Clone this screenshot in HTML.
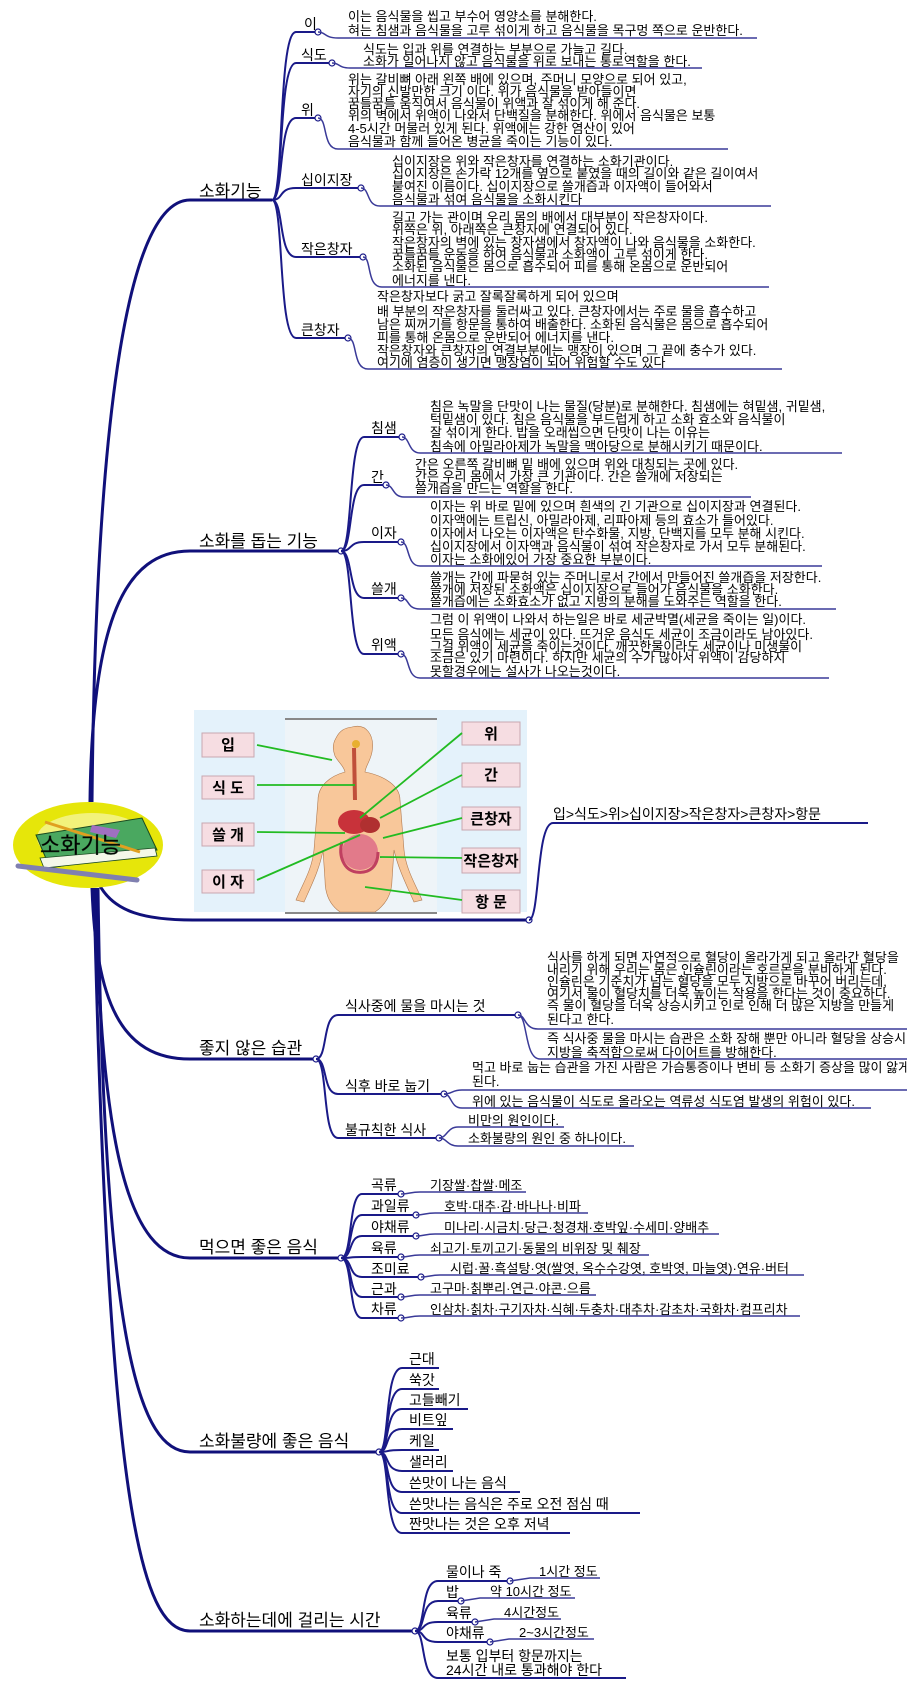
<!DOCTYPE html>
<html><head><meta charset="utf-8"><style>
html,body{margin:0;padding:0;background:#fff;}
svg{display:block;}
text{font-family:"Liberation Sans","Noto Sans CJK KR",sans-serif;fill:#000;}
.d{font-size:13px;}
.l{font-size:14px;}
.m{font-size:17px;}
.t{fill:none;stroke:#10107a;stroke-width:3;}
.b{fill:none;stroke:#1a1a88;stroke-width:2;}
.u{fill:none;stroke:#3a3a98;stroke-width:1.5;}
.c{fill:#fff;stroke:#1a1a88;stroke-width:1.2;}
</style></head><body>
<svg width="907" height="1681" viewBox="0 0 907 1681" xmlns="http://www.w3.org/2000/svg">
<!-- trunks -->
<path class="t" d="M92,802 C96,400 130,200 190,200 L272,200"/>
<path class="t" d="M90,802 C92,620 125,551 190,551 L341,551"/>
<path class="t" d="M100,886 C115,912 145,920 193,920 L529,920"/>
<path class="t" d="M92,888 C96,1000 120,1059 190,1059 L316,1059"/>
<path class="t" d="M96,888 C100,1150 130,1258 190,1258 L341,1258"/>
<path class="t" d="M98,888 C104,1350 140,1452 190,1452 L379,1452"/>
<path class="t" d="M94,888 C108,1500 140,1631 190,1631 L415,1631"/>

<!-- Section 1 -->
<text class="m" x="199" y="197">소화기능</text>
<g>
<path class="b" d="M272,200 C284,200 278,32 296,32 L318,32"/><circle class="c" cx="318" cy="32" r="3"/>
<text class="l" x="304" y="29">이</text>
<path class="u" d="M318,32 C326,32 324,38 338,38 L757,38"/>
<text class="d" x="348" y="21">이는 음식물을 씹고 부수어 영양소를 분해한다.</text>
<text class="d" x="348" y="35">혀는 침샘과 음식물을 고루 섞이게 하고 음식물을 목구멍 쪽으로 운반한다.</text>

<path class="b" d="M272,200 C284,200 278,63 296,63 L332,63"/><circle class="c" cx="332" cy="63" r="3"/>
<text class="l" x="301" y="60">식도</text>
<path class="u" d="M332,63 C340,63 338,68 350,68 L702,68"/>
<text class="d" x="363" y="54">식도는 입과 위를 연결하는 부분으로 가늘고 길다.</text>
<text class="d" x="363" y="66">소화가 일어나지 않고 음식물을 위로 보내는 통로역할을 한다.</text>

<path class="b" d="M272,200 C284,200 278,118 296,118 L318,118"/><circle class="c" cx="318" cy="118" r="3"/>
<text class="l" x="301" y="115">위</text>
<path class="u" d="M318,118 C328,118 322,149 338,149 L728,149"/>
<text class="d" x="348" y="84">위는 갈비뼈 아래 왼쪽 배에 있으며, 주머니 모양으로 되어 있고,</text>
<text class="d" x="348" y="96">자기의 신발만한 크기 이다. 위가 음식물을 받아들이면</text>
<text class="d" x="348" y="108">꿈틀꿈틀 움직여서 음식물이 위액과 잘 섞이게 해 준다.</text>
<text class="d" x="348" y="120">위의 벽에서 위액이 나와서 단백질을 분해한다. 위에서 음식물은 보통</text>
<text class="d" x="348" y="133">4-5시간 머물러 있게 된다. 위액에는 강한 염산이 있어</text>
<text class="d" x="348" y="146">음식물과 함께 들어온 병균을 죽이는 기능이 있다.</text>

<path class="b" d="M272,200 C284,200 278,188 296,188 L361,188"/><circle class="c" cx="361" cy="188" r="3"/>
<text class="l" x="301" y="185">십이지장</text>
<path class="u" d="M361,188 C370,188 366,206 380,206 L771,206"/>
<text class="d" x="392" y="166">십이지장은 위와 작은창자를 연결하는 소화기관이다.</text>
<text class="d" x="392" y="178">십이지장은 손가락 12개를 옆으로 붙였을 때의 길이와 같은 길이여서</text>
<text class="d" x="392" y="191">붙여진 이름이다. 십이지장으로 쓸개즙과 이자액이 들어와서</text>
<text class="d" x="392" y="204">음식물과 섞여 음식물을 소화시킨다</text>

<path class="b" d="M272,200 C284,200 278,257 296,257 L363,257"/><circle class="c" cx="363" cy="257" r="3"/>
<text class="l" x="301" y="254">작은창자</text>
<path class="u" d="M363,257 C372,257 366,287 382,287 L769,287"/>
<text class="d" x="392" y="222">길고 가는 관이며 우리 몸의 배에서 대부분이 작은창자이다.</text>
<text class="d" x="392" y="234">위쪽은 위, 아래쪽은 큰창자에 연결되어 있다.</text>
<text class="d" x="392" y="247">작은창자의 벽에 있는 창자샘에서 창자액이 나와 음식물을 소화한다.</text>
<text class="d" x="392" y="259">꿈틀꿈틀 운동을 하여 음식물과 소화액이 고루 섞이게 한다.</text>
<text class="d" x="392" y="271">소화된 음식물은 몸으로 흡수되어 피를 통해 온몸으로 운반되어</text>
<text class="d" x="392" y="285">에너지를 낸다.</text>

<path class="b" d="M272,200 C284,200 278,338 296,338 L348,338"/><circle class="c" cx="348" cy="338" r="3"/>
<text class="l" x="301" y="335">큰창자</text>
<path class="u" d="M348,338 C358,338 352,369 368,369 L782,369"/>
<text class="d" x="377" y="301">작은창자보다 굵고 잘록잘록하게 되어 있으며</text>
<text class="d" x="377" y="316">배 부분의 작은창자를 둘러싸고 있다. 큰창자에서는 주로 물을 흡수하고</text>
<text class="d" x="377" y="329">남은 찌꺼기를 항문을 통하여 배출한다. 소화된 음식물은 몸으로 흡수되어</text>
<text class="d" x="377" y="342">피를 통해 온몸으로 운반되어 에너지를 낸다.</text>
<text class="d" x="377" y="355">작은창자와 큰창자의 연결부분에는 맹장이 있으며 그 끝에 충수가 있다.</text>
<text class="d" x="377" y="367">여기에 염증이 생기면 맹장염이 되어 위험할 수도 있다</text>
</g>

<!-- Section 2 -->
<text class="m" x="199" y="547">소화를 돕는 기능</text>
<circle class="c" cx="341" cy="551" r="3"/>
<path class="b" d="M341,551 C353,551 348,437 364,437 L402,437"/><circle class="c" cx="402" cy="437" r="3"/>
<text class="l" x="371" y="433">침샘</text>
<path class="u" d="M402,437 C410,437 408,453 420,453 L842,453"/>
<text class="d" x="430" y="411">침은 녹말을 단맛이 나는 물질(당분)로 분해한다. 침샘에는 혀밑샘, 귀밑샘,</text>
<text class="d" x="430" y="424">턱밑샘이 있다. 침은 음식물을 부드럽게 하고 소화 효소와 음식물이</text>
<text class="d" x="430" y="437">잘 섞이게 한다. 밥을 오래씹으면 단맛이 나는 이유는</text>
<text class="d" x="430" y="451">침속에 아밀라아제가 녹말을 맥아당으로 분해시키기 때문이다.</text>

<path class="b" d="M341,551 C353,551 348,485 364,485 L386,485"/><circle class="c" cx="386" cy="485" r="3"/>
<text class="l" x="371" y="482">간</text>
<path class="u" d="M386,485 C394,485 392,497 404,497 L751,497"/>
<text class="d" x="415" y="469">간은 오른쪽 갈비뼈 밑 배에 있으며 위와 대칭되는 곳에 있다.</text>
<text class="d" x="415" y="481">간은 우리 몸에서 가장 큰 기관이다. 간은 쓸개에 저장되는</text>
<text class="d" x="415" y="493">쓸개즙을 만드는 역할을 한다.</text>

<path class="b" d="M341,551 C353,551 348,542 364,542 L401,542"/><circle class="c" cx="401" cy="542" r="3"/>
<text class="l" x="371" y="538">이자</text>
<path class="u" d="M401,542 C410,542 406,566 420,566 L822,566"/>
<text class="d" x="430" y="511">이자는 위 바로 밑에 있으며 흰색의 긴 기관으로 십이지장과 연결된다.</text>
<text class="d" x="430" y="525">이자액에는 트립신, 아밀라아제, 리파아제 등의 효소가 들어있다.</text>
<text class="d" x="430" y="538">이자에서 나오는 이자액은 탄수화물, 지방, 단백지를 모두 분해 시킨다.</text>
<text class="d" x="430" y="551">십이지장에서 이자액과 음식물이 섞여 작은창자로 가서 모두 분해된다.</text>
<text class="d" x="430" y="564">이자는 소화에있어 가장 중요한 부분이다.</text>

<path class="b" d="M341,551 C353,551 348,598 364,598 L401,598"/><circle class="c" cx="401" cy="598" r="3"/>
<text class="l" x="371" y="594">쓸개</text>
<path class="u" d="M401,598 C410,598 406,609 420,609 L836,609"/>
<text class="d" x="430" y="582">쓸개는 간에 파묻혀 있는 주머니로서 간에서 만들어진 쓸개즙을 저장한다.</text>
<text class="d" x="430" y="594">쓸개에 저장된 소화액은 십이지장으로 들어가 음식물을 소화한다.</text>
<text class="d" x="430" y="606">쓸개즙에는 소화효소가 없고 지방의 분해를 도와주는 역할을 한다.</text>

<path class="b" d="M341,551 C353,551 348,654 364,654 L401,654"/><circle class="c" cx="401" cy="654" r="3"/>
<text class="l" x="371" y="650">위액</text>
<path class="u" d="M401,654 C410,654 406,678 420,678 L829,678"/>
<text class="d" x="430" y="624">그럼 이 위액이 나와서 하는일은 바로 세균박멸(세균을 죽이는 일)이다.</text>
<text class="d" x="430" y="639">모든 음식에는 세균이 있다. 뜨거운 음식도 세균이 조금이라도 남아있다.</text>
<text class="d" x="430" y="651">그걸 위액이 세균을 죽이는것이다. 깨끗한물이라도 세균이나 미생물이</text>
<text class="d" x="430" y="662">조금은 있기 마련이다. 하지만 세균의 수가 많아서 위액이 감당하지</text>
<text class="d" x="430" y="676">못할경우에는 설사가 나오는것이다.</text>

<!-- Section 3 image -->
<rect x="194" y="710" width="333" height="202" fill="#e4f2fb"/>
<rect x="285" y="718" width="152" height="194" fill="#eef4f8"/>
<line x1="285" y1="719" x2="437" y2="719" stroke="#888" stroke-width="2"/>
<line x1="285" y1="913" x2="437" y2="913" stroke="#888" stroke-width="2"/>
<path d="M352,727 C366,723 375,735 372,752 C370,762 366,765 365,772 C385,776 400,786 400,800 L404,850 C406,870 416,885 422,900 L414,902 C406,884 398,868 394,850 L392,880 C392,895 385,905 375,912 L340,912 C330,905 325,895 325,880 L323,850 C320,868 312,884 304,902 L296,900 C302,885 312,870 314,850 L318,800 C318,786 330,776 345,772 C344,766 338,762 335,756 C333,750 332,745 336,738 C340,730 345,728 352,727 Z" fill="#f8c79a" stroke="#b07a50" stroke-width="0.6"/>
<path d="M352,748 L356,748 L357,800 L353,800 Z" fill="#c0503a"/>
<circle cx="356" cy="744" r="4" fill="#e8b030"/>
<ellipse cx="354" cy="822" rx="16" ry="12" fill="#c8323a"/>
<ellipse cx="370" cy="825" rx="10" ry="8" fill="#b03030"/>
<ellipse cx="360" cy="852" rx="18" ry="18" fill="#e27a8a"/>
<path d="M342,842 C338,856 344,870 356,872 C370,874 378,866 378,852" fill="none" stroke="#c04060" stroke-width="3"/>
<g font-weight="bold" font-size="15">
<rect x="202" y="733" width="52" height="24" fill="#f6dde2" stroke="#c8a8b0"/><text x="228" y="750" text-anchor="middle">입</text>
<rect x="202" y="776" width="52" height="23" fill="#f6dde2" stroke="#c8a8b0"/><text x="228" y="793" text-anchor="middle">식 도</text>
<rect x="202" y="823" width="52" height="23" fill="#f6dde2" stroke="#c8a8b0"/><text x="228" y="840" text-anchor="middle">쓸 개</text>
<rect x="202" y="870" width="52" height="23" fill="#f6dde2" stroke="#c8a8b0"/><text x="228" y="887" text-anchor="middle">이 자</text>
<rect x="462" y="722" width="58" height="23" fill="#f6dde2" stroke="#c8a8b0"/><text x="491" y="739" text-anchor="middle">위</text>
<rect x="462" y="763" width="58" height="24" fill="#f6dde2" stroke="#c8a8b0"/><text x="491" y="780" text-anchor="middle">간</text>
<rect x="462" y="807" width="58" height="23" fill="#f6dde2" stroke="#c8a8b0"/><text x="491" y="824" text-anchor="middle">큰창자</text>
<rect x="462" y="848" width="58" height="25" fill="#f6dde2" stroke="#c8a8b0"/><text x="491" y="866" text-anchor="middle">작은창자</text>
<rect x="462" y="890" width="58" height="23" fill="#f6dde2" stroke="#c8a8b0"/><text x="491" y="907" text-anchor="middle">항 문</text>
</g>
<g stroke="#22bb22" stroke-width="1.8" fill="none">
<line x1="257" y1="745" x2="332" y2="760"/>
<line x1="257" y1="785" x2="355" y2="785"/>
<line x1="257" y1="832" x2="345" y2="833"/>
<line x1="257" y1="880" x2="360" y2="835"/>
<line x1="462" y1="733" x2="360" y2="818"/>
<line x1="462" y1="775" x2="380" y2="818"/>
<line x1="462" y1="818" x2="383" y2="838"/>
<line x1="462" y1="858" x2="380" y2="857"/>
<line x1="462" y1="900" x2="365" y2="887"/>
</g>
<circle class="c" cx="529" cy="920" r="3"/>
<path class="b" d="M529,920 C540,920 536,823 553,823 L868,823"/>
<text class="l" x="553" y="819">입&gt;식도&gt;위&gt;십이지장&gt;작은창자&gt;큰창자&gt;항문</text>

<!-- root image -->
<ellipse cx="88" cy="845" rx="75" ry="43" fill="#e6e60a"/>
<ellipse cx="92" cy="838" rx="55" ry="25" fill="#f2f27a"/>
<path d="M36,835 L142,818 L157,850 L50,868 Z" fill="#4aa860" stroke="#1a4a20" stroke-width="1"/>
<path d="M40,858 L155,848 L157,856 L44,868 Z" fill="#f4f8e8" stroke="#1a4a20" stroke-width="0.8"/>
<line x1="45" y1="822" x2="140" y2="852" stroke="#e0a020" stroke-width="3"/>
<path d="M92,825 L120,830 L116,838 L90,832 Z" fill="#a070c0"/>
<line x1="18" y1="866" x2="137" y2="880" stroke="#8080b0" stroke-width="5" stroke-linecap="round"/>
<text x="40" y="853" font-size="22" fill="#2a5a30" stroke="#123018" stroke-width="0.4">소화기능</text>

<!-- Section 4 -->
<text class="m" x="199" y="1054">좋지 않은 습관</text>
<circle class="c" cx="316" cy="1059" r="3"/>
<path class="b" d="M316,1059 C328,1059 322,1015 338,1015 L518,1015"/><circle class="c" cx="518" cy="1015" r="3"/>
<text class="l" x="345" y="1011">식사중에 물을 마시는 것</text>
<path class="u" d="M518,1015 C526,1015 524,1029 538,1029 L907,1029"/>
<text class="d" x="547" y="962">식사를 하게 되면 자연적으로 혈당이 올라가게 되고 올라간 혈당을</text>
<text class="d" x="547" y="974">내리기 위해 우리는 몸은 인슐린이라는 호르몬을 분비하게 된다.</text>
<text class="d" x="547" y="986">인슐린은 기준치가 넘는 혈당을 모두 지방으로 바꾸어 버리는데,</text>
<text class="d" x="547" y="998">여기서 물이 혈당치를 더욱 높이는 작용을 한다는 것이 중요하다.</text>
<text class="d" x="547" y="1010">즉 물이 혈당을 더욱 상승시키고 인로 인해 더 많은 지방을 만들게</text>
<text class="d" x="547" y="1024">된다고 한다.</text>
<path class="u" d="M518,1015 C528,1015 524,1059 540,1059 L907,1059"/>
<text class="d" x="547" y="1043">즉 식사중 물을 마시는 습관은 소화 장해 뿐만 아니라 혈당을 상승시</text>
<text class="d" x="547" y="1057">지방을 축적함으로써 다이어트를 방해한다.</text>
<path class="b" d="M316,1059 C328,1059 322,1094 338,1094 L444,1094"/><circle class="c" cx="444" cy="1094" r="3"/>
<text class="l" x="345" y="1091">식후 바로 눕기</text>
<path class="u" d="M444,1094 C452,1094 452,1090 462,1090 L907,1090"/>
<text class="d" x="472" y="1072">먹고 바로 눕는 습관을 가진 사람은 가슴통증이나 변비 등 소화기 증상을 많이 앓게</text>
<text class="d" x="472" y="1086">된다.</text>
<path class="u" d="M444,1094 C452,1094 450,1108 462,1108 L871,1108"/>
<text class="d" x="472" y="1106">위에 있는 음식물이 식도로 올라오는 역류성 식도염 발생의 위험이 있다.</text>
<path class="b" d="M316,1059 C328,1059 322,1138 338,1138 L439,1138"/><circle class="c" cx="439" cy="1138" r="3"/>
<text class="l" x="345" y="1135">불규칙한 식사</text>
<path class="u" d="M439,1138 C447,1138 447,1127 458,1127 L564,1127"/>
<text class="d" x="468" y="1125">비만의 원인이다.</text>
<path class="u" d="M439,1138 C447,1138 447,1146 458,1146 L634,1146"/>
<text class="d" x="468" y="1143">소화불량의 원인 중 하나이다.</text>

<!-- Section 5 -->
<text class="m" x="199" y="1253">먹으면 좋은 음식</text>
<circle class="c" cx="341" cy="1258" r="3"/>
<g>
<path class="b" d="M341,1258 C353,1258 348,1194 362,1194 L401,1194"/><circle class="c" cx="401" cy="1194" r="3"/>
<text class="l" x="371" y="1190">곡류</text><path class="u" d="M401,1194 C410,1194 410,1192 420,1192 L526,1192"/>
<text class="d" x="430" y="1190">기장쌀·찹쌀·메조</text>
<path class="b" d="M341,1258 C353,1258 348,1215 362,1215 L416,1215"/><circle class="c" cx="416" cy="1215" r="3"/>
<text class="l" x="371" y="1211">과일류</text><path class="u" d="M416,1215 C425,1215 425,1213 435,1213 L588,1213"/>
<text class="d" x="444" y="1211">호박·대추·감·바나나·비파</text>
<path class="b" d="M341,1258 C353,1258 348,1236 362,1236 L416,1236"/><circle class="c" cx="416" cy="1236" r="3"/>
<text class="l" x="371" y="1232">야채류</text><path class="u" d="M416,1236 C425,1236 425,1234 435,1234 L719,1234"/>
<text class="d" x="444" y="1232">미나리·시금치·당근·청경채·호박잎·수세미·양배추</text>
<path class="b" d="M341,1258 C353,1258 348,1257 362,1257 L401,1257"/><circle class="c" cx="401" cy="1257" r="3"/>
<text class="l" x="371" y="1253">육류</text><path class="u" d="M401,1257 C410,1257 410,1255 420,1255 L649,1255"/>
<text class="d" x="430" y="1253">쇠고기·토끼고기·동물의 비위장 및 췌장</text>
<path class="b" d="M341,1258 C353,1258 348,1277 362,1277 L421,1277"/><circle class="c" cx="421" cy="1277" r="3"/>
<text class="l" x="371" y="1274">조미료</text><path class="u" d="M421,1277 C430,1277 430,1275 440,1275 L804,1275"/>
<text class="d" x="450" y="1273">시럽·꿀·흑설탕·엿(쌀엿, 옥수수강엿, 호박엿, 마늘엿)·연유·버터</text>
<path class="b" d="M341,1258 C353,1258 348,1297 362,1297 L401,1297"/><circle class="c" cx="401" cy="1297" r="3"/>
<text class="l" x="371" y="1294">근과</text><path class="u" d="M401,1297 C410,1297 410,1295 420,1295 L596,1295"/>
<text class="d" x="430" y="1293">고구마·칡뿌리·연근·야콘·으름</text>
<path class="b" d="M341,1258 C353,1258 348,1318 362,1318 L401,1318"/><circle class="c" cx="401" cy="1318" r="3"/>
<text class="l" x="371" y="1314">차류</text><path class="u" d="M401,1318 C410,1318 410,1316 420,1316 L800,1316"/>
<text class="d" x="430" y="1314">인삼차·칡차·구기자차·식혜·두충차·대추차·감초차·국화차·컴프리차</text>
</g>

<!-- Section 6 -->
<text class="m" x="199" y="1447">소화불량에 좋은 음식</text>
<circle class="c" cx="379" cy="1452" r="3"/>
<g>
<path class="b" d="M379,1452 C390,1452 384,1368 402,1368 L439,1368"/><text class="l" x="409" y="1364">근대</text>
<path class="b" d="M379,1452 C390,1452 384,1389 402,1389 L439,1389"/><text class="l" x="409" y="1385">쑥갓</text>
<path class="b" d="M379,1452 C390,1452 384,1409 402,1409 L468,1409"/><text class="l" x="409" y="1405">고들빼기</text>
<path class="b" d="M379,1452 C390,1452 384,1429 402,1429 L453,1429"/><text class="l" x="409" y="1425">비트잎</text>
<path class="b" d="M379,1452 C390,1452 384,1450 402,1450 L439,1450"/><text class="l" x="409" y="1446">케일</text>
<path class="b" d="M379,1452 C390,1452 384,1471 402,1471 L453,1471"/><text class="l" x="409" y="1467">샐러리</text>
<path class="b" d="M379,1452 C390,1452 384,1492 402,1492 L520,1492"/><text class="l" x="409" y="1488">쓴맛이 나는 음식</text>
<path class="b" d="M379,1452 C390,1452 384,1513 402,1513 L640,1513"/><text class="l" x="409" y="1509">쓴맛나는 음식은 주로 오전 점심 때</text>
<path class="b" d="M379,1452 C390,1452 384,1533 402,1533 L570,1533"/><text class="l" x="409" y="1529">짠맛나는 것은 오후 저녁</text>
</g>

<!-- Section 7 -->
<text class="m" x="199" y="1626">소화하는데에 걸리는 시간</text>
<circle class="c" cx="415" cy="1631" r="3"/>
<path class="b" d="M415,1631 C426,1631 420,1581 438,1581 L510,1581"/><circle class="c" cx="510" cy="1581" r="3"/>
<text class="l" x="446" y="1577">물이나 죽</text>
<path class="u" d="M510,1581 L530,1578 L600,1578"/><text class="d" x="539" y="1576">1시간 정도</text>
<path class="b" d="M415,1631 C426,1631 420,1601 438,1601 L461,1601"/><circle class="c" cx="461" cy="1601" r="3"/>
<text class="l" x="446" y="1597">밥</text>
<path class="u" d="M461,1601 L480,1598 L575,1598"/><text class="d" x="490" y="1596">약 10시간 정도</text>
<path class="b" d="M415,1631 C426,1631 420,1622 438,1622 L475,1622"/><circle class="c" cx="475" cy="1622" r="3"/>
<text class="l" x="446" y="1618">육류</text>
<path class="u" d="M475,1622 L494,1619 L561,1619"/><text class="d" x="504" y="1617">4시간정도</text>
<path class="b" d="M415,1631 C426,1631 420,1642 438,1642 L490,1642"/><circle class="c" cx="490" cy="1642" r="3"/>
<text class="l" x="446" y="1638">야채류</text>
<path class="u" d="M490,1642 L509,1639 L594,1639"/><text class="d" x="519" y="1637">2~3시간정도</text>
<path class="b" d="M415,1631 C426,1631 420,1678 438,1678 L626,1678"/>
<text class="l" x="446" y="1661">보통 입부터 항문까지는</text>
<text class="l" x="446" y="1675">24시간 내로 통과해야 한다</text>
</svg>
</body></html>
